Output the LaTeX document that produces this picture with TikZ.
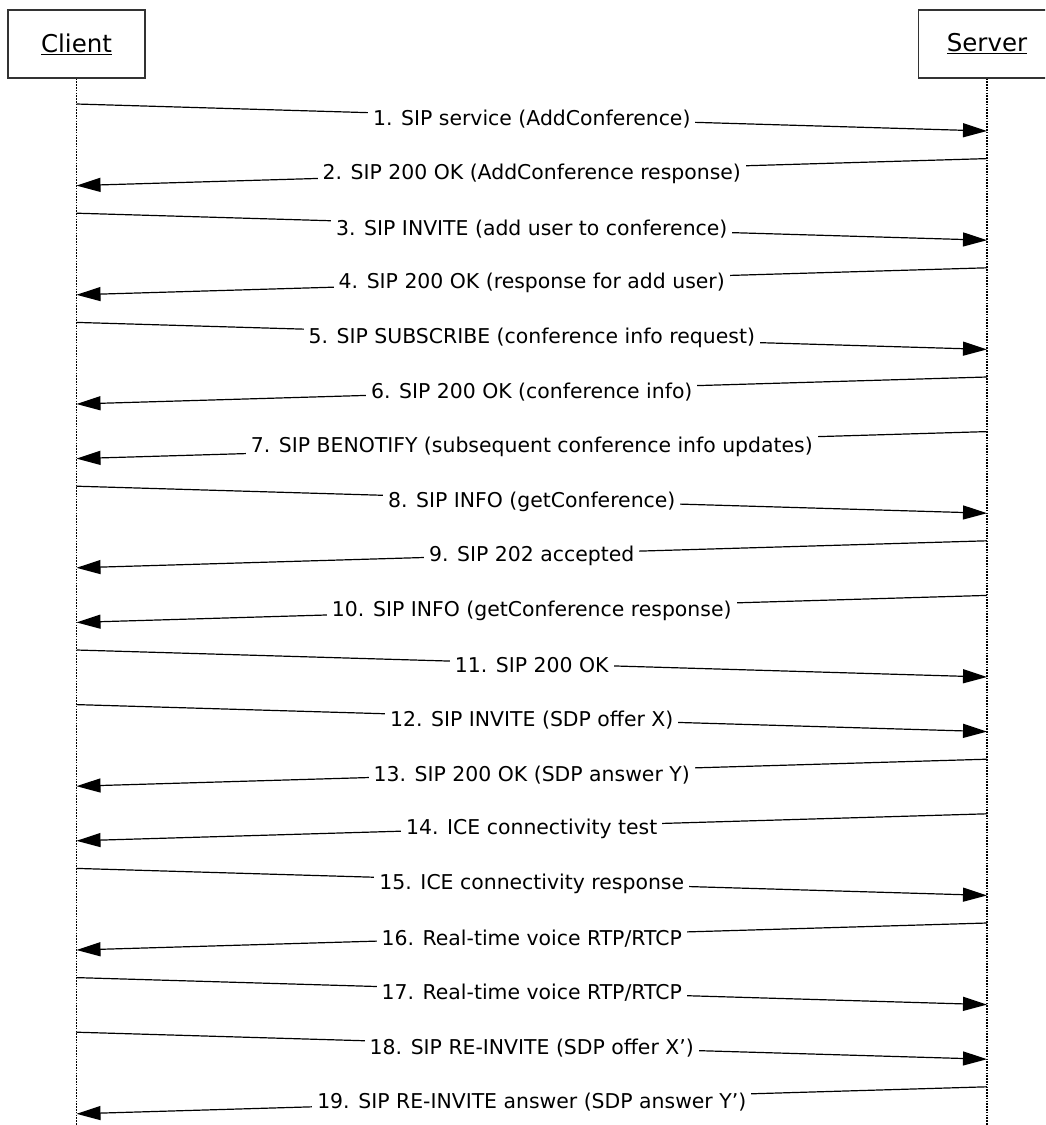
\documentclass[tikz,border=0pt]{standalone}
\usepackage{fontspec}
\setmainfont{DejaVu Sans}
\usetikzlibrary{arrows.meta,positioning,calc}

\begin{document}
\begin{tikzpicture}[x=1pt,y=-1pt,>={Triangle[length=24pt,width=14pt]},
  actor/.style={draw=black!80,line width=1.2pt,minimum width=137pt,minimum height=68pt,
    inner sep=0pt,font=\fontsize{24.5}{28}\selectfont},
  life/.style={line width=1.3pt,dash pattern=on 1.5pt off 1.3pt},
  msg/.style={->,line width=1.2pt},
  lbl/.style={fill=white,inner sep=5pt,yshift=-2pt,font=\fontsize{20.4}{24}\selectfont}]
\useasboundingbox (0,0) rectangle (1045,1125);
\clip (0,0) rectangle (1045,1125);
% actors and lifelines
\node[actor] (client) at (76.5,44) {\underline{Client}};
\node[actor] (server) at (987,44) {\underline{Server}};
\coordinate (cl) at (client.south);
\coordinate (sl) at (server.south);
\coordinate (cl-end) at (cl |- 0,1125);
\coordinate (sl-end) at (sl |- 0,1125);
\draw[life] (cl) -- (cl-end);
\draw[life] (sl) -- (sl-end);
% messages
\foreach \i/\from/\to/\txt in {
  1/cl/sl/{1. SIP service (AddConference)},
  2/sl/cl/{2. SIP 200 OK (AddConference response)},
  3/cl/sl/{3. SIP INVITE (add user to conference)},
  4/sl/cl/{4. SIP 200 OK (response for add user)},
  5/cl/sl/{5. SIP SUBSCRIBE (conference info request)},
  6/sl/cl/{6. SIP 200 OK (conference info)},
  7/sl/cl/{7. SIP BENOTIFY (subsequent conference info updates)},
  8/cl/sl/{8. SIP INFO (getConference)},
  9/sl/cl/{9. SIP 202 accepted},
  10/sl/cl/{10. SIP INFO (getConference response)},
  11/cl/sl/{11. SIP 200 OK},
  12/cl/sl/{12. SIP INVITE (SDP offer X)},
  13/sl/cl/{13. SIP 200 OK (SDP answer Y)},
  14/sl/cl/{14. ICE connectivity test},
  15/cl/sl/{15. ICE connectivity response},
  16/sl/cl/{16. Real-time voice RTP/RTCP},
  17/cl/sl/{17. Real-time voice RTP/RTCP},
  18/cl/sl/{18. SIP RE-INVITE (SDP offer X’)},
  19/sl/cl/{19. SIP RE-INVITE answer (SDP answer Y’)}}{
  \pgfmathsetmacro\ya{104+(\i-1)*54.6}
  \pgfmathsetmacro\yb{\ya+27}
  \coordinate (m\i-a) at (\from |- 0,\ya);
  \coordinate (m\i-b) at (\to |- 0,\yb);
  \draw[msg] (m\i-a) -- node[lbl] {\txt} (m\i-b);
}
\end{tikzpicture}
\end{document}
